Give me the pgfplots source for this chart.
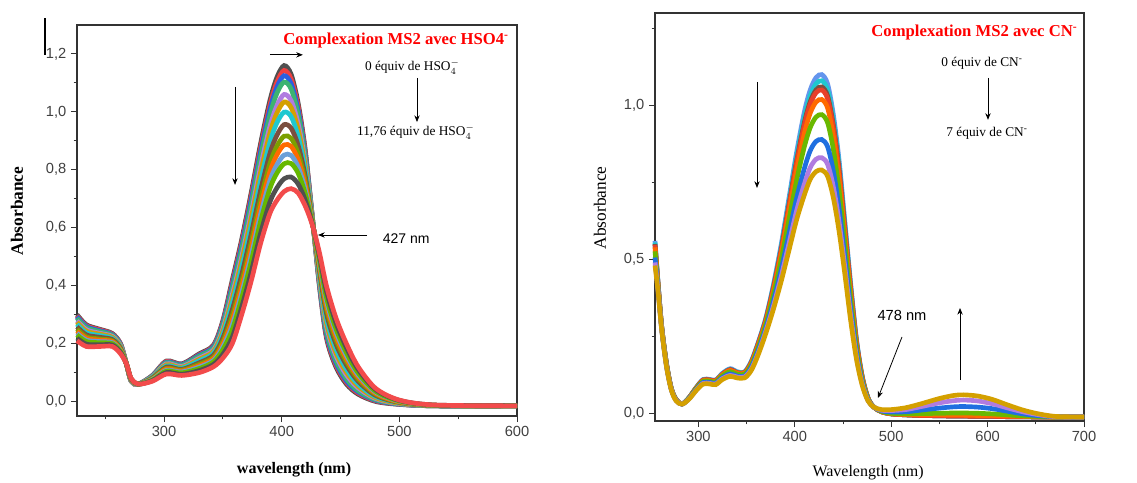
\documentclass[border=0pt]{standalone}
\usepackage{fontspec}
\setmainfont{Liberation Serif}
\setsansfont{Liberation Sans}
\usepackage{pgfplots}
\pgfplotsset{compat=1.18}
\usepackage{pgfplotstable}
\usetikzlibrary{arrows.meta}

\definecolor{a1}{HTML}{505050}
\definecolor{a2}{HTML}{F04040}
\definecolor{a3}{HTML}{2A60E0}
\definecolor{a4}{HTML}{3CB371}
\definecolor{a5}{HTML}{B07CE0}
\definecolor{a6}{HTML}{D4A000}
\definecolor{a7}{HTML}{1FC8D0}
\definecolor{a8}{HTML}{7B4F3F}
\definecolor{a9}{HTML}{7BA000}
\definecolor{a10}{HTML}{FF6A00}
\definecolor{a11}{HTML}{6A9FD8}
\definecolor{a12}{HTML}{66B800}
\definecolor{a13}{HTML}{505050}
\definecolor{a14}{HTML}{F24B4B}

\definecolor{b1}{HTML}{6495ED}
\definecolor{b2}{HTML}{1FC8D0}
\definecolor{b3}{HTML}{7B5040}
\definecolor{b4}{HTML}{E8402A}
\definecolor{b5}{HTML}{FF6A00}
\definecolor{b6}{HTML}{6AB800}
\definecolor{b7}{HTML}{1F6FE0}
\definecolor{b8}{HTML}{B07CE0}
\definecolor{b9}{HTML}{D4A000}

\pgfplotstableread{
wl a1 a2 a3 a4 a5 a6 a7 a8 a9 a10 a11 a12 a13 a14
226 0.300 0.296 0.293 0.288 0.279 0.274 0.267 0.258 0.250 0.243 0.236 0.230 0.219 0.210
234 0.265 0.262 0.259 0.255 0.248 0.243 0.237 0.230 0.223 0.218 0.212 0.207 0.198 0.190
245 0.250 0.248 0.245 0.242 0.236 0.233 0.228 0.222 0.216 0.212 0.207 0.203 0.196 0.190
256 0.235 0.233 0.231 0.229 0.225 0.222 0.218 0.214 0.210 0.207 0.203 0.200 0.195 0.190
263 0.200 0.199 0.197 0.195 0.192 0.190 0.187 0.184 0.180 0.178 0.175 0.173 0.169 0.165
268 0.130 0.130 0.130 0.130 0.130 0.130 0.130 0.130 0.130 0.130 0.130 0.130 0.130 0.130
272 0.070 0.070 0.071 0.071 0.072 0.073 0.074 0.075 0.076 0.076 0.077 0.078 0.079 0.080
278 0.060 0.060 0.060 0.060 0.060 0.060 0.060 0.060 0.060 0.060 0.060 0.060 0.060 0.060
290 0.090 0.089 0.088 0.087 0.085 0.084 0.083 0.081 0.079 0.077 0.076 0.074 0.072 0.070
302 0.140 0.138 0.136 0.134 0.130 0.127 0.123 0.119 0.115 0.112 0.108 0.105 0.100 0.095
315 0.130 0.128 0.127 0.125 0.121 0.118 0.115 0.111 0.108 0.105 0.102 0.099 0.094 0.090
330 0.165 0.162 0.160 0.157 0.150 0.146 0.141 0.134 0.129 0.124 0.119 0.114 0.107 0.100
342 0.195 0.192 0.189 0.185 0.178 0.173 0.167 0.160 0.153 0.148 0.142 0.137 0.128 0.120
350 0.280 0.275 0.270 0.263 0.250 0.242 0.232 0.219 0.207 0.198 0.188 0.179 0.163 0.150
358 0.420 0.411 0.402 0.391 0.369 0.356 0.339 0.317 0.297 0.281 0.264 0.248 0.222 0.200
366 0.560 0.550 0.539 0.526 0.500 0.485 0.464 0.438 0.414 0.396 0.375 0.357 0.326 0.300
374 0.720 0.708 0.696 0.680 0.650 0.632 0.607 0.577 0.549 0.528 0.503 0.482 0.446 0.415
382 0.890 0.876 0.862 0.845 0.811 0.790 0.762 0.728 0.697 0.673 0.645 0.621 0.580 0.545
390 1.040 1.024 1.009 0.989 0.950 0.927 0.896 0.857 0.822 0.794 0.763 0.736 0.689 0.650
396 1.120 1.103 1.086 1.065 1.022 0.997 0.963 0.920 0.882 0.852 0.818 0.789 0.738 0.695
402 1.160 1.143 1.125 1.103 1.060 1.034 0.999 0.956 0.916 0.886 0.851 0.821 0.769 0.725
408 1.130 1.114 1.098 1.079 1.039 1.015 0.984 0.944 0.909 0.881 0.850 0.822 0.775 0.735
414 1.030 1.018 1.005 0.990 0.959 0.940 0.915 0.884 0.856 0.835 0.810 0.788 0.751 0.720
420 0.870 0.862 0.854 0.845 0.825 0.813 0.798 0.778 0.761 0.747 0.732 0.718 0.695 0.675
426 0.640 0.639 0.638 0.636 0.633 0.631 0.629 0.626 0.623 0.621 0.619 0.617 0.613 0.610
432 0.400 0.405 0.409 0.415 0.426 0.433 0.443 0.454 0.464 0.472 0.482 0.490 0.504 0.515
438 0.220 0.227 0.234 0.243 0.261 0.272 0.287 0.305 0.321 0.333 0.348 0.360 0.382 0.400
446 0.120 0.127 0.134 0.142 0.159 0.169 0.183 0.200 0.215 0.227 0.241 0.253 0.273 0.290
455 0.060 0.066 0.071 0.078 0.092 0.101 0.112 0.126 0.138 0.148 0.159 0.169 0.186 0.200
465 0.025 0.029 0.033 0.037 0.047 0.053 0.060 0.070 0.078 0.085 0.092 0.099 0.111 0.120
480 0.000 0.002 0.004 0.006 0.010 0.013 0.017 0.021 0.025 0.028 0.032 0.035 0.041 0.045
500 -0.010 -0.009 -0.009 -0.008 -0.007 -0.006 -0.004 -0.003 -0.002 -0.001 0.001 0.002 0.004 0.005
530 -0.015 -0.015 -0.015 -0.015 -0.014 -0.014 -0.014 -0.014 -0.013 -0.013 -0.013 -0.013 -0.012 -0.012
600 -0.015 -0.015 -0.015 -0.015 -0.015 -0.015 -0.015 -0.015 -0.015 -0.015 -0.015 -0.015 -0.015 -0.015
}\leftdata

\pgfplotstableread{
wl b1 b2 b3 b4 b5 b6 b7 b8 b9
255 0.560 0.555 0.550 0.547 0.539 0.526 0.506 0.490 0.480
258 0.430 0.428 0.426 0.425 0.422 0.417 0.410 0.404 0.400
262 0.280 0.279 0.279 0.278 0.277 0.276 0.273 0.271 0.270
267 0.160 0.159 0.159 0.158 0.157 0.156 0.153 0.151 0.150
272 0.080 0.080 0.079 0.079 0.079 0.078 0.077 0.076 0.075
277 0.045 0.045 0.044 0.044 0.044 0.043 0.042 0.041 0.040
283 0.030 0.030 0.030 0.030 0.030 0.030 0.030 0.030 0.030
290 0.050 0.050 0.049 0.049 0.049 0.048 0.047 0.046 0.045
298 0.085 0.084 0.084 0.083 0.082 0.081 0.078 0.076 0.075
305 0.110 0.109 0.108 0.108 0.106 0.104 0.100 0.097 0.095
312 0.110 0.109 0.108 0.108 0.106 0.104 0.100 0.097 0.095
318 0.108 0.107 0.106 0.106 0.104 0.102 0.098 0.095 0.093
325 0.130 0.129 0.127 0.127 0.125 0.122 0.116 0.113 0.110
333 0.145 0.143 0.142 0.141 0.139 0.135 0.128 0.123 0.120
340 0.135 0.134 0.132 0.132 0.130 0.127 0.121 0.118 0.115
348 0.135 0.134 0.132 0.132 0.130 0.127 0.121 0.118 0.115
355 0.170 0.168 0.166 0.165 0.162 0.157 0.150 0.144 0.140
362 0.230 0.227 0.225 0.224 0.220 0.213 0.203 0.195 0.190
370 0.310 0.307 0.304 0.302 0.297 0.289 0.276 0.267 0.260
378 0.420 0.415 0.410 0.407 0.399 0.386 0.366 0.350 0.340
386 0.550 0.542 0.534 0.531 0.519 0.500 0.468 0.446 0.430
394 0.700 0.689 0.678 0.673 0.656 0.629 0.584 0.552 0.530
402 0.850 0.836 0.821 0.815 0.793 0.758 0.700 0.659 0.630
410 0.980 0.962 0.945 0.937 0.910 0.867 0.796 0.745 0.710
416 1.050 1.031 1.012 1.004 0.975 0.928 0.853 0.798 0.760
422 1.090 1.070 1.050 1.041 1.011 0.962 0.883 0.825 0.785
428 1.100 1.080 1.060 1.050 1.019 0.970 0.889 0.830 0.790
434 1.070 1.051 1.031 1.022 0.992 0.944 0.866 0.809 0.770
440 0.970 0.952 0.935 0.927 0.900 0.857 0.786 0.735 0.700
446 0.820 0.805 0.790 0.783 0.760 0.723 0.664 0.620 0.590
452 0.620 0.609 0.598 0.593 0.576 0.549 0.504 0.472 0.450
458 0.420 0.412 0.404 0.401 0.389 0.370 0.338 0.316 0.300
464 0.240 0.236 0.232 0.230 0.223 0.213 0.196 0.183 0.175
470 0.120 0.118 0.116 0.115 0.112 0.107 0.100 0.094 0.090
476 0.050 0.049 0.049 0.048 0.047 0.046 0.043 0.041 0.040
482 0.020 0.020 0.020 0.020 0.020 0.020 0.020 0.020 0.020
490 0.005 0.005 0.005 0.005 0.005 0.006 0.008 0.010 0.012
500 -0.002 -0.002 -0.002 -0.002 -0.001 0.000 0.004 0.009 0.012
515 -0.005 -0.005 -0.005 -0.005 -0.004 -0.002 0.005 0.012 0.018
530 -0.007 -0.007 -0.007 -0.007 -0.005 -0.001 0.010 0.021 0.030
550 -0.008 -0.008 -0.008 -0.008 -0.005 0.000 0.017 0.034 0.048
565 -0.009 -0.009 -0.009 -0.009 -0.006 0.001 0.021 0.041 0.058
575 -0.009 -0.009 -0.009 -0.009 -0.006 0.001 0.022 0.043 0.060
590 -0.010 -0.010 -0.010 -0.010 -0.007 0.000 0.020 0.040 0.056
605 -0.010 -0.010 -0.010 -0.010 -0.007 -0.002 0.015 0.031 0.045
620 -0.011 -0.011 -0.011 -0.011 -0.009 -0.005 0.007 0.018 0.028
635 -0.011 -0.011 -0.011 -0.011 -0.010 -0.008 -0.001 0.006 0.012
650 -0.012 -0.012 -0.012 -0.012 -0.011 -0.010 -0.007 -0.003 0.000
670 -0.012 -0.012 -0.012 -0.012 -0.012 -0.012 -0.011 -0.011 -0.010
700 -0.012 -0.012 -0.012 -0.012 -0.012 -0.012 -0.012 -0.012 -0.012
}\rightdata

\pgfplotsset{
  specaxis/.style={
    scale only axis, clip=false,
    axis line style={line width=0.9pt, draw=black!80},
    tick align=outside, tick pos=left,
    major tick length=4.5pt, minor tick length=2.5pt,
    every tick/.style={line width=0.75pt, black!80},
    tick label style={font=\sffamily\fontsize{11}{12}\selectfont, text=black!75},
    /pgf/number format/assume math mode=true,
    yticklabel style={/pgf/number format/.cd, fixed, fixed zerofill, precision=1, use comma},
    xticklabel style={/pgf/number format/.cd, fixed, precision=0},
  },
  spec/.style={no markers, line width=3.5pt, smooth, color=#1},
}
\tikzset{
  ann/.style={font=\fontsize{10}{12}\selectfont},
  arr/.style={line width=0.6pt, -{Stealth[length=5pt,width=4pt]}},
}

\begin{document}
\begin{tikzpicture}
\path[use as bounding box] (0pt,0pt) rectangle (852.75pt,361.5pt);

\begin{axis}[specaxis,
  at={(57.75pt,49.5pt)}, anchor=south west,
  width=330pt, height=293.25pt,
  xmin=226, xmax=600, ymin=-0.05, ymax=1.3,
  xtick={300,400,500,600}, minor xtick={250,350,450,550},
  ytick={0,0.2,0.4,0.6,0.8,1.0,1.2}, minor ytick={0.1,0.3,0.5,0.7,0.9,1.1},
]
\addplot[spec=a1] table[x=wl,y=a1]{\leftdata};
\addplot[spec=a2] table[x=wl,y=a2]{\leftdata};
\addplot[spec=a3] table[x=wl,y=a3]{\leftdata};
\addplot[spec=a4] table[x=wl,y=a4]{\leftdata};
\addplot[spec=a5] table[x=wl,y=a5]{\leftdata};
\addplot[spec=a6] table[x=wl,y=a6]{\leftdata};
\addplot[spec=a7] table[x=wl,y=a7]{\leftdata};
\addplot[spec=a8] table[x=wl,y=a8]{\leftdata};
\addplot[spec=a9] table[x=wl,y=a9]{\leftdata};
\addplot[spec=a10] table[x=wl,y=a10]{\leftdata};
\addplot[spec=a11] table[x=wl,y=a11]{\leftdata};
\addplot[spec=a12] table[x=wl,y=a12]{\leftdata};
\addplot[spec=a13] table[x=wl,y=a13]{\leftdata};
\addplot[spec=a14] table[x=wl,y=a14]{\leftdata};

\node[anchor=east, text=red, font=\bfseries\fontsize{12.5}{14}\selectfont] at (axis cs:597,1.248) {Complexation MS2 avec HSO4\textsuperscript{-}};
\node[ann] at (axis cs:511,1.155) {0 équiv de HSO$_4^-$};
\node[ann] at (axis cs:514,0.931) {11,76 équiv de HSO$_4^-$};
\draw[arr] (axis cs:515,1.117) -- (axis cs:515,0.965);
\draw[arr] (axis cs:360.3,1.086) -- (axis cs:360.3,0.748);
\draw[arr] (axis cs:390,1.197) -- (axis cs:418,1.197);
\draw[arr] (axis cs:472.5,0.575) -- (axis cs:430.9,0.575);
\node[anchor=west, font=\sffamily\fontsize{10.5}{12}\selectfont] at (axis cs:481.9,0.561) {427 nm};
\draw[line width=1.5pt] (axis cs:198.8,1.324) -- (axis cs:198.8,1.197);
\node[rotate=90, font=\bfseries\fontsize{13}{14}\selectfont] at (axis cs:175,0.658) {Absorbance};
\node[font=\bfseries\fontsize{12}{14}\selectfont] at (axis cs:410.5,-0.236) {wavelength (nm)};
\end{axis}

\begin{axis}[specaxis,
  at={(491.25pt,45.75pt)}, anchor=south west,
  width=321.75pt, height=306pt,
  xmin=255, xmax=700, ymin=-0.025, ymax=1.3,
  xtick={300,400,500,600,700}, minor xtick={350,450,550,650},
  ytick={0,0.5,1.0}, minor ytick={0.25,0.75,1.25},
]
\addplot[spec=b1] table[x=wl,y=b1]{\rightdata};
\addplot[spec=b2] table[x=wl,y=b2]{\rightdata};
\addplot[spec=b3] table[x=wl,y=b3]{\rightdata};
\addplot[spec=b4] table[x=wl,y=b4]{\rightdata};
\addplot[spec=b5] table[x=wl,y=b5]{\rightdata};
\addplot[spec=b6] table[x=wl,y=b6]{\rightdata};
\addplot[spec=b7] table[x=wl,y=b7]{\rightdata};
\addplot[spec=b8] table[x=wl,y=b8]{\rightdata};
\addplot[spec=b9] table[x=wl,y=b9]{\rightdata};

\node[anchor=east, text=red, font=\bfseries\fontsize{12.5}{14}\selectfont] at (axis cs:698,1.238) {Complexation MS2 avec CN\textsuperscript{-}};
\node[ann] at (axis cs:594.2,1.138) {0 équiv de CN\textsuperscript{-}};
\node[ann] at (axis cs:599.4,0.910) {7 équiv de CN\textsuperscript{-}};
\draw[arr] (axis cs:600.4,1.089) -- (axis cs:600.4,0.953);
\draw[arr] (axis cs:360.8,1.076) -- (axis cs:360.8,0.732);
\draw[arr] (axis cs:571.4,0.108) -- (axis cs:571.4,0.342);
\node[font=\sffamily\fontsize{11}{12}\selectfont] at (axis cs:511.2,0.319) {478 nm};
\draw[arr] (axis cs:511.2,0.248) -- (axis cs:486.3,0.050);
\node[rotate=90, font=\fontsize{13}{14}\selectfont] at (axis cs:198,0.667) {Absorbance};
\node[font=\fontsize{12}{14}\selectfont] at (axis cs:476,-0.194) {Wavelength (nm)};
\end{axis}
\end{tikzpicture}
\end{document}
